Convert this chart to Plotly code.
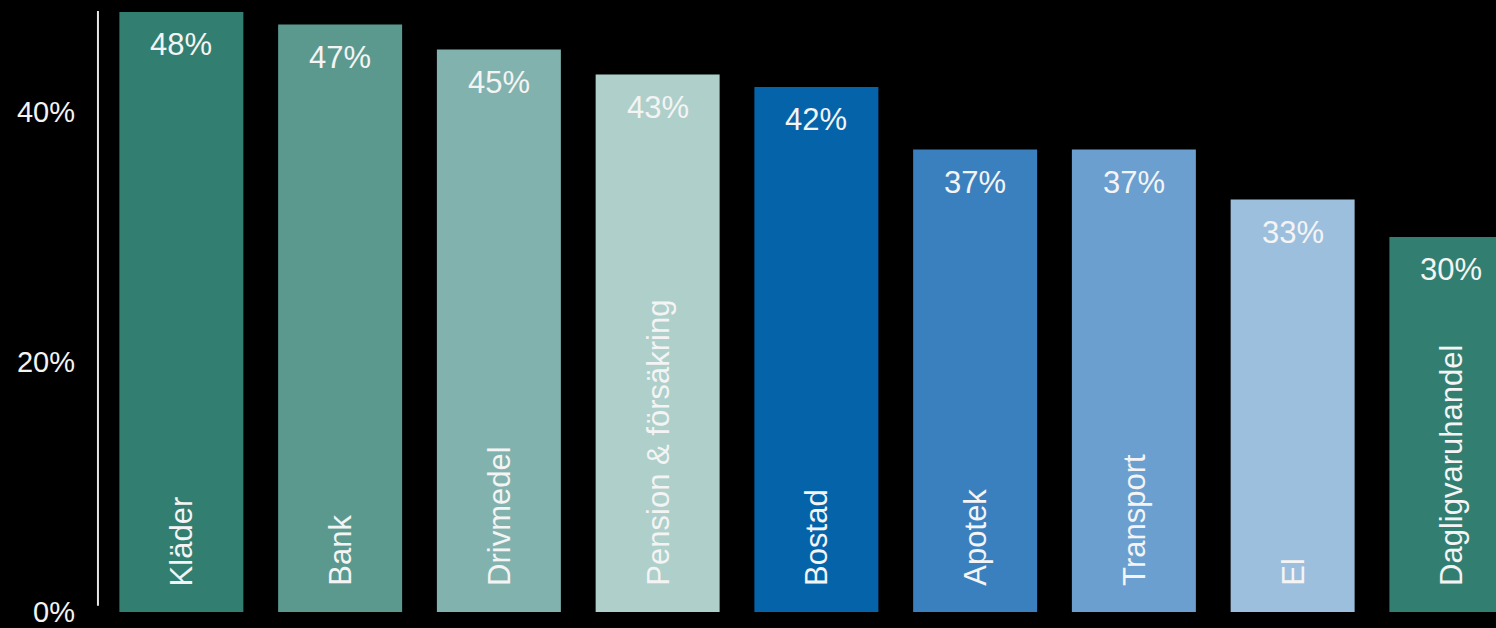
import plotly.graph_objects as go

# Share of respondents per sector
categories = ["Kläder", "Bank", "Drivmedel", "Pension & försäkring", "Bostad",
              "Apotek", "Transport", "El", "Dagligvaruhandel"]
values = [48, 47, 45, 43, 42, 37, 37, 33, 30]
colors = ["#327F72", "#5B998F", "#82B2AD", "#AECFCA", "#0563A9",
          "#3B80BE", "#6A9FD0", "#9CBFDE", "#327F72"]
tick_values = [0, 20, 40]
tick_labels = ["0%", "20%", "40%"]

FONT = "Liberation Sans, Arial, sans-serif"
TEXT = "#F4F4F4"

fig = go.Figure(
    go.Bar(
        x=categories,
        y=values,
        marker=dict(color=colors, line=dict(width=0)),
        hoverinfo="skip",
    )
)

# Value labels near the top of each bar
for cat, val in zip(categories, values):
    fig.add_annotation(
        x=cat, y=val, text=f"{val}%", showarrow=False,
        xanchor="center", yanchor="top", yshift=-13,
        font=dict(family=FONT, size=31, color=TEXT),
    )

# Rotated category names at the base of each bar
for cat in categories:
    fig.add_annotation(
        x=cat, y=0, text=cat, showarrow=False, textangle=-90,
        xanchor="center", yanchor="bottom", yshift=24,
        font=dict(family=FONT, size=31, color=TEXT),
    )

# Vertical axis line
fig.add_shape(
    type="line", xref="paper", yref="y",
    x0=-0.0029, x1=-0.0029, y0=0.5, y1=48.08,
    line=dict(color="#E6E6E6", width=2),
)

fig.update_layout(
    width=1496, height=628,
    margin=dict(l=102, r=0, t=11, b=16),
    paper_bgcolor="#000000", plot_bgcolor="#000000",
    bargap=0.219,
    showlegend=False,
    xaxis=dict(
        range=[-0.5, 8.281], showticklabels=False, showgrid=False,
        zeroline=False, showline=False, fixedrange=True,
    ),
    yaxis=dict(
        range=[0, 48.08], tickvals=tick_values, ticktext=tick_labels,
        showgrid=False, zeroline=False, showline=False,
        ticks="", ticklabelstandoff=26, ticklabeloverflow="allow",
        tickfont=dict(family=FONT, size=29, color=TEXT),
        fixedrange=True,
    ),
)

fig.write_html("out.html")
